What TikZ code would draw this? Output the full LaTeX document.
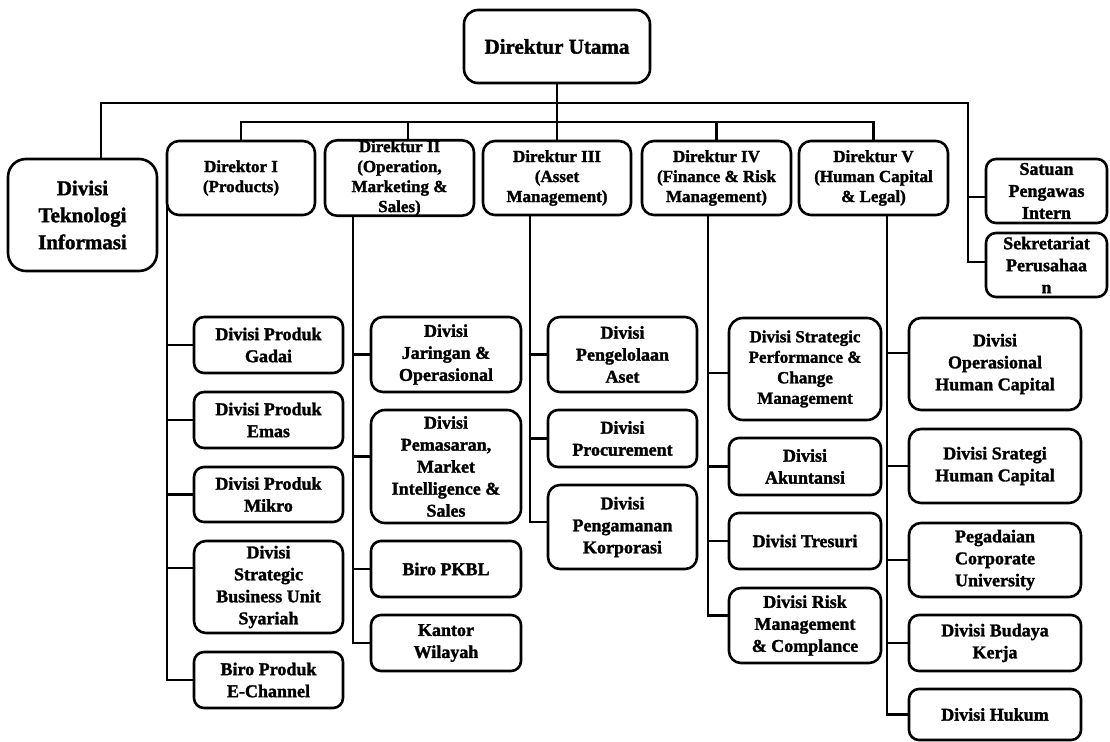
\documentclass[tikz,border=0pt]{standalone}
\usepackage{fontspec}
\setmainfont{Liberation Serif}[BoldFeatures={FakeBold=1.6}]
\begin{document}
\begin{tikzpicture}[x=1pt,y=-1pt,
  conn/.style={line width=2.6pt},
  box/.style={draw, line width=2.6pt, rounded corners=10pt, align=center, inner sep=0pt,
    font=\bfseries\fontsize{18}{22}\selectfont},
  dirbox/.style={box, rounded corners=12pt, minimum width=148pt, minimum height=74pt,
    font=\bfseries\fontsize{17}{20}\selectfont},
  kid1/.style={box, minimum width=149pt},
  kid2/.style={box, minimum width=150pt},
  kid3/.style={box, minimum width=149pt},
  kid4/.style={box, minimum width=152pt},
  kid5/.style={box, minimum width=172pt}]
\useasboundingbox (0,0) rectangle (1110,741);

% top
\node[box, rounded corners=14pt, minimum width=186pt, minimum height=73pt,
  font=\bfseries\fontsize{21}{25}\selectfont] (du) at (557,46.5) {Direktur Utama};
\node[box, rounded corners=18pt, minimum width=149pt, minimum height=112pt,
  font=\bfseries\fontsize{21}{27}\selectfont] (dti) at (82.5,215) {Divisi\\Teknologi\\Informasi};

% directors
\node[dirbox] (d1) at (241,178) {Direktor I\\(Products)};
\node[dirbox, minimum width=149pt] (d2) at (399.5,178) {Direktur II\\(Operation,\\Marketing \&\\Sales)};
\node[dirbox] (d3) at (557,178) {Direktur III\\(Asset\\Management)};
\node[dirbox, minimum width=149pt] (d4) at (716.5,178) {Direktur IV\\(Finance \& Risk\\Management)};
\node[dirbox, minimum width=149pt] (d5) at (873.5,178) {Direktur V\\(Human Capital\\\& Legal)};

% right staff
\node[box, minimum width=121pt, minimum height=64pt] (spi) at (1046.5,191) {Satuan\\Pengawas\\Intern};
\node[box, minimum width=121pt, minimum height=64pt] (sek) at (1046.5,265) {Sekretariat\\Perusahaa\\n};

% Direktor I children
\node[kid1, minimum height=56pt] (c11) at (268.5,345) {Divisi Produk\\Gadai};
\node[kid1, minimum height=56pt] (c12) at (268.5,420) {Divisi Produk\\Emas};
\node[kid1, minimum height=55pt] (c13) at (268.5,494.5) {Divisi Produk\\Mikro};
\node[kid1, rounded corners=12pt, minimum height=92pt] (c14) at (268.5,587) {Divisi\\Strategic\\Business Unit\\Syariah};
\node[kid1, minimum height=56pt] (c15) at (268.5,680) {Biro Produk\\E-Channel};

% Direktur II children
\node[kid2, rounded corners=12pt, minimum height=75pt] (c21) at (446,354.5) {Divisi\\Jaringan \&\\Operasional};
\node[kid2, rounded corners=14pt, minimum height=113pt] (c22) at (446,466.5) {Divisi\\Pemasaran,\\Market\\Intelligence \&\\Sales};
\node[kid2, minimum height=56pt] (c23) at (446,569) {Biro PKBL};
\node[kid2, minimum height=56pt] (c24) at (446,643) {Kantor\\Wilayah};

% Direktur III children
\node[kid3, rounded corners=12pt, minimum height=75pt] (c31) at (622.5,354.5) {Divisi\\Pengelolaan\\Aset};
\node[kid3, minimum height=57pt] (c32) at (622.5,438.5) {Divisi\\Procurement};
\node[kid3, rounded corners=12pt, minimum height=84pt] (c33) at (622.5,527) {Divisi\\Pengamanan\\Korporasi};

% Direktur IV children
\node[kid4, rounded corners=14pt, minimum height=102pt,
  font=\bfseries\fontsize{17}{20.5}\selectfont] (c41) at (805,369) {Divisi Strategic\\Performance \&\\Change\\Management};
\node[kid4, minimum height=57pt] (c42) at (805,466.5) {Divisi\\Akuntansi};
\node[kid4, minimum height=56pt] (c43) at (805,541) {Divisi Tresuri};
\node[kid4, rounded corners=12pt, minimum height=75pt] (c44) at (805,625.5) {Divisi Risk\\Management\\\& Complance};

% Direktur V children
\node[kid5, rounded corners=12pt, minimum height=92pt] (c51) at (995,364) {Divisi\\Operasional\\Human Capital};
\node[kid5, rounded corners=12pt, minimum height=74pt] (c52) at (995,466) {Divisi Srategi\\Human Capital};
\node[kid5, rounded corners=12pt, minimum height=74pt] (c53) at (995,560) {Pegadaian\\Corporate\\University};
\node[kid5, minimum height=56pt] (c54) at (995,643) {Divisi Budaya\\Kerja};
\node[kid5, minimum height=51pt] (c55) at (995,714.5) {Divisi Hukum};

% helper coordinates
\coordinate (tl) at (101,103);
\coordinate (tr) at (968,103);
\coordinate (sl) at (0,122);
\coordinate (d2in) at (408,122);
\coordinate (t1) at (167,0);
\coordinate (t2) at (353,0);
\coordinate (t3) at (530,0);
\coordinate (t4) at (708,0);
\coordinate (t5) at (887,0);
\coordinate (spic) at ([yshift=-6pt]spi.west);
\coordinate (sekc) at ([yshift=3pt]sek.west);
\coordinate (c14c) at ([yshift=19pt]c14.west);
\coordinate (c22c) at ([yshift=10pt]c22.west);
\coordinate (c33c) at ([yshift=5pt]c33.west);
\coordinate (c41c) at ([yshift=-4pt]c41.west);
\coordinate (c44c) at ([yshift=10pt]c44.west);
\coordinate (c51c) at ([yshift=11pt]c51.west);

% top connectors
\draw[conn] (du.south) -- (d3.north);
\draw[conn] (tl |- dti.north) -- (tl) -- (tr) |- (sekc);
\draw[conn] (tr |- spic) -- (spic);
\draw[conn] (d1.north) -- (d1.north |- sl) -- (d5.north |- sl) -- (d5.north);
\draw[conn] (d2in) -- (d2in |- d2.north);
\draw[conn] (d4.north |- sl) -- (d4.north);

% Direktor I
\draw[conn] ([yshift=10pt]t1 |- d1.south) -- (t1 |- c15.west) -- (c15.west);
\foreach \c in {c11,c12,c13} \draw[conn] (t1 |- \c.west) -- (\c.west);
\draw[conn] (t1 |- c14c) -- (c14c);

% Direktur II
\draw[conn] (t2 |- d2.south) -- (t2 |- c24.west) -- (c24.west);
\foreach \c in {c21,c23} \draw[conn] (t2 |- \c.west) -- (\c.west);
\draw[conn] (t2 |- c22c) -- (c22c);

% Direktur III
\draw[conn] (t3 |- d3.south) -- (t3 |- c33c) -- (c33c);
\foreach \c in {c31,c32} \draw[conn] (t3 |- \c.west) -- (\c.west);

% Direktur IV
\draw[conn] (t4 |- d4.south) -- (t4 |- c44c) -- (c44c);
\foreach \c in {c42,c43} \draw[conn] (t4 |- \c.west) -- (\c.west);
\draw[conn] (t4 |- c41c) -- (c41c);

% Direktur V
\draw[conn] (t5 |- d5.south) -- (t5 |- c55.west) -- (c55.west);
\foreach \c in {c52,c53,c54} \draw[conn] (t5 |- \c.west) -- (\c.west);
\draw[conn] (t5 |- c51c) -- (c51c);
\end{tikzpicture}
\end{document}
